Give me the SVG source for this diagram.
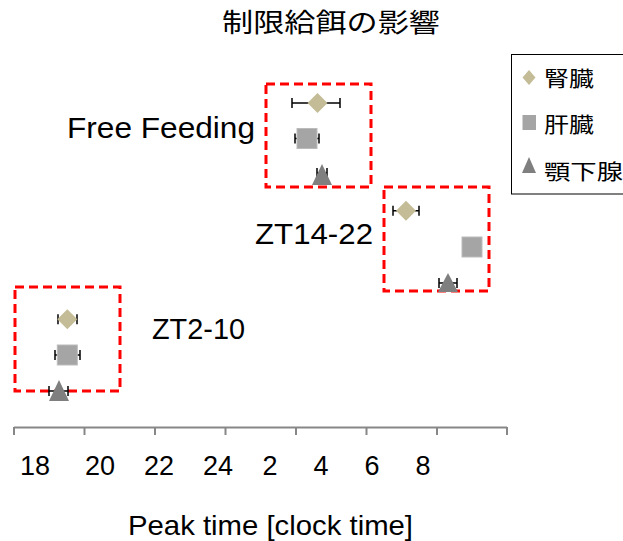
<svg xmlns="http://www.w3.org/2000/svg" width="623" height="541" viewBox="0 0 623 541">
<style>
.t{font-family:"Liberation Sans",Arial,"Noto Sans CJK JP",sans-serif;fill:#000}
.j{font-family:"Noto Sans CJK JP","Liberation Sans",sans-serif;fill:#000}
.box{fill:none;stroke:#FF0000;stroke-width:3;stroke-dasharray:9 5}
.err{stroke:#000;stroke-width:1.5;fill:none}
.dia{fill:#C4BC96}
.sq{fill:#A5A5A5;stroke:#BBBBBB;stroke-width:1}
.tri{fill:#7F7F7F}
.ax{stroke:#878787;stroke-width:2;fill:none}
</style>
<rect width="623" height="541" fill="#fff"/>
<text class="j" x="222" y="32" font-size="26" textLength="218" lengthAdjust="spacingAndGlyphs">制限給餌の影響</text>

<g id="axis">
<path class="ax" d="M14,427.5H507M14,427V435M84.5,427V435M155,427V435M225.5,427V435M296,427V435M366.5,427V435M437,427V435M507,427V435"/>
<g class="t" font-size="27" text-anchor="middle">
<text x="35" y="475">18</text>
<text x="100" y="475">20</text>
<text x="159" y="475">22</text>
<text x="218" y="475">24</text>
<text x="270" y="475">2</text>
<text x="321" y="475">4</text>
<text x="372" y="475">6</text>
<text x="423" y="475">8</text>
</g>
<text class="t" x="128" y="535" font-size="28" textLength="285" lengthAdjust="spacingAndGlyphs">Peak time [clock time]</text>
</g>

<g id="connectors">
<rect class="box" x="266" y="84" width="105" height="103"/>
<rect class="box" x="384" y="187" width="105" height="104"/>
<rect class="box" x="15" y="287" width="105" height="104"/>
</g>

<g id="free-feeding">
<text class="t" x="67" y="137.5" font-size="29" textLength="188" lengthAdjust="spacingAndGlyphs">Free Feeding</text>
<path class="err" d="M292,103H340M292,98V108M340,98V108"/>
<polygon class="dia" points="317.5,93 327.5,103 317.5,113 307.5,103"/>
<path class="err" d="M295,138.5H319M295,133.5V143.5M319,133.5V143.5"/>
<rect class="sq" x="297" y="128.5" width="20" height="20"/>
<path class="err" d="M317,173H327M317,168V178M327,168V178"/>
<polygon class="tri" points="322,164 332,185 312,185"/>
</g>

<g id="zt14-22">
<text class="t" x="255" y="243.5" font-size="29" textLength="118" lengthAdjust="spacingAndGlyphs">ZT14-22</text>
<path class="err" d="M393,210.7H419M393,205.7V215.7M419,205.7V215.7"/>
<polygon class="dia" points="406,200.7 416,210.7 406,220.7 396,210.7"/>
<rect class="sq" x="462" y="237" width="20" height="20"/>
<path class="err" d="M439,283H457M439,278V288M457,278V288"/>
<polygon class="tri" points="448,273 458,292 438,292"/>
</g>

<g id="zt2-10">
<text class="t" x="152" y="338.5" font-size="29" textLength="93" lengthAdjust="spacingAndGlyphs">ZT2-10</text>
<path class="err" d="M58,319.3H77M58,314.3V324.3M77,314.3V324.3"/>
<polygon class="dia" points="67.3,309.3 77.3,319.3 67.3,329.3 57.3,319.3"/>
<path class="err" d="M55,355H80M55,350V360M80,350V360"/>
<rect class="sq" x="57.3" y="345" width="20" height="20"/>
<path class="err" d="M49,391H68M49,386V396M68,386V396"/>
<polygon class="tri" points="59,380 69,401 49,401"/>
</g>

<g id="legend">
<rect x="511.5" y="54.5" width="130" height="139.5" fill="#fff" stroke="#000" stroke-width="1"/>
<polygon class="dia" points="529,70 535.5,77.5 529,85 522.5,77.5"/>
<text class="j" x="544" y="86" font-size="21" textLength="50" lengthAdjust="spacingAndGlyphs">腎臓</text>
<rect x="522.5" y="115" width="13.5" height="15" fill="#A5A5A5"/>
<text class="j" x="544" y="132" font-size="21" textLength="50" lengthAdjust="spacingAndGlyphs">肝臓</text>
<polygon class="tri" points="529,157 536,173 522,173"/>
<text class="j" x="544" y="179" font-size="21" textLength="79" lengthAdjust="spacingAndGlyphs">顎下腺</text>
</g>
</svg>
